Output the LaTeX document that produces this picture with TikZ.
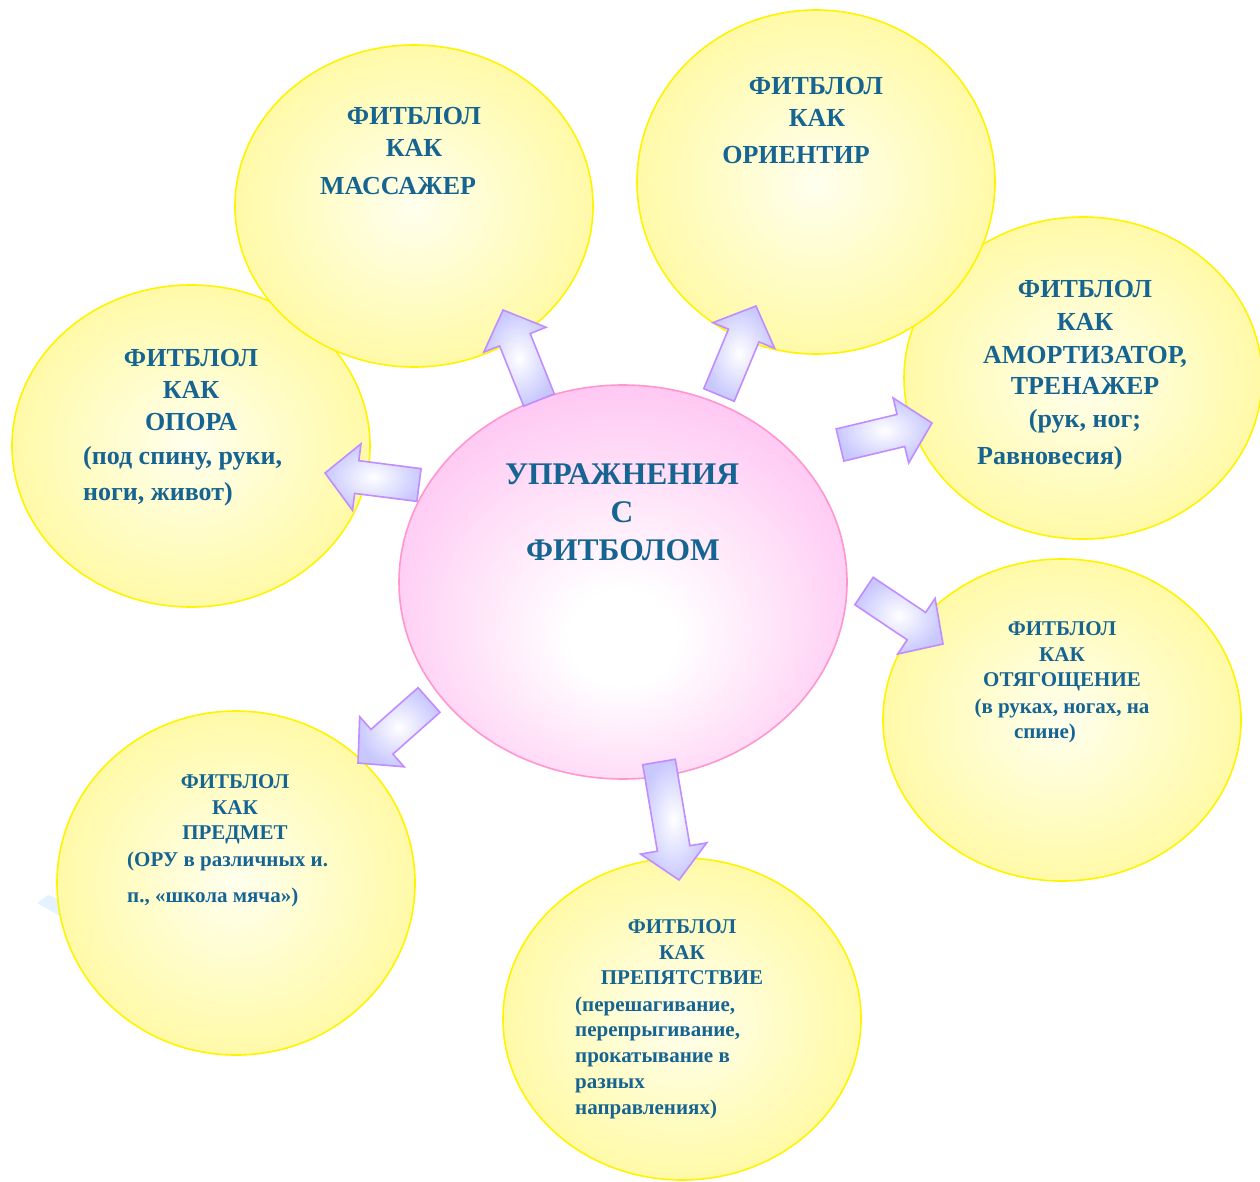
\documentclass[tikz,border=0pt]{standalone}
\usepackage{fontspec}
\setmainfont{Liberation Serif}
\usetikzlibrary{shapes.geometric,calc}
\definecolor{tcol}{RGB}{22,100,145}
\definecolor{yelIn}{RGB}{255,255,238}
\definecolor{yelOut}{RGB}{255,250,168}
\definecolor{yelLine}{RGB}{255,243,0}
\definecolor{pinkOut}{RGB}{255,196,242}
\definecolor{pinkLine}{RGB}{255,150,205}
\definecolor{arrFill}{RGB}{200,200,255}
\definecolor{arrLine}{RGB}{192,140,255}
\definecolor{ltblue}{RGB}{228,243,255}
\pgfdeclareradialshading{pinkrad}{\pgfpoint{0bp}{-8bp}}{color(0bp)=(white); color(6bp)=(white); color(30bp)=(pinkOut); color(50bp)=(pinkOut)}
\tikzset{
  ball/.style={ellipse, draw=yelLine, line width=1.6pt, inner color=yelIn, outer color=yelOut, minimum width=358pt, minimum height=322pt, inner sep=0pt},
  arr/.style={draw=arrLine, line width=1.6pt, inner color=white, outer color=arrFill, line join=miter},
  big/.style={text=tcol, font=\bfseries\fontsize{26}{30}\selectfont, inner sep=0pt, anchor=base},
  small/.style={text=tcol, font=\bfseries\fontsize{21}{25}\selectfont, inner sep=0pt, anchor=base},
  ttl/.style={text=tcol, font=\bfseries\fontsize{31.5}{36}\selectfont, inner sep=0pt, anchor=base},
}
\newcommand\blockarr[2]{%
  \coordinate (#1-n) at ($(#2)!32pt!(#1)$);
  \shadedraw[arr] ($(#1)!16.5pt!90:(#2)$) -- ($(#1-n)!16.5pt!90:(#2)$) -- ($(#1-n)!33.5pt!90:(#2)$) -- (#2) -- ($(#1-n)!33.5pt!-90:(#2)$) -- ($(#1-n)!16.5pt!-90:(#2)$) -- ($(#1)!16.5pt!-90:(#2)$) -- cycle;}
\begin{document}
\begin{tikzpicture}[x=1pt,y=-1pt]
\useasboundingbox (0,0) rectangle (1260,1182);
% balls
\fill[ltblue] (37,903) -- (48,895) -- (66,902) -- (60,916) -- cycle;
\node[ball] (amort) at (1083,378) {};
\node[ball, minimum height=344pt] (orient) at (816,182) {};
\node[ball] (opora) at (191,446) {};
\node[ball] (mass) at (414,206) {};
\node[ball] (otyag) at (1062,720) {};
\node[ball, minimum height=344pt] (predm) at (236,883) {};
\node[ball] (prep) at (682,1019) {};
\node[ellipse, draw=pinkLine, line width=1.6pt, shading=pinkrad, minimum width=448pt, minimum height=394pt, inner sep=0pt] (ctr) at (623,582) {};
% arrows
\coordinate (a1b) at (539,400); \coordinate (a1t) at (503,310);
\coordinate (a2b) at (719,395); \coordinate (a2t) at (756,306);
\coordinate (a3b) at (840,445); \coordinate (a3t) at (932,423);
\coordinate (a4b) at (419,485); \coordinate (a4t) at (325,473);
\coordinate (a5b) at (864,591); \coordinate (a5t) at (943,644);
\coordinate (a6b) at (429,700); \coordinate (a6t) at (358,763);
\coordinate (a7b) at (659,762); \coordinate (a7t) at (679,880);
\blockarr{a1b}{a1t}
\blockarr{a2b}{a2t}
\blockarr{a3b}{a3t}
\blockarr{a4b}{a4t}
\blockarr{a5b}{a5t}
\blockarr{a6b}{a6t}
\blockarr{a7b}{a7t}
% title
\node[ttl] (t1) at (622,484) {УПРАЖНЕНИЯ};
\node[ttl] (t2) at (622,522) {С};
\node[ttl] (t3) at (623,560) {ФИТБОЛОМ};
% massager
\node[big] (m1) at (414,125) {ФИТБЛОЛ};
\node[big] (m2) at (414,157) {КАК};
\node[big] (m3) at (398,195) {МАССАЖЕР};
% orientir
\node[big] (o1) at (816,95) {ФИТБЛОЛ};
\node[big] (o2) at (817,127) {КАК};
\node[big] (o3) at (796,164) {ОРИЕНТИР};
% amortizator
\node[big] (r1) at (1085,298) {ФИТБЛОЛ};
\node[big] (r2) at (1085,330) {КАК};
\node[big] (r3) at (1085,363) {АМОРТИЗАТОР,};
\node[big] (r4) at (1085,394) {ТРЕНАЖЕР};
\node[big] (r5) at (1085,427) {(рук, ног;};
\node[big, anchor=base west] (r6) at (977,464) {Равновесия)};
% opora
\node[big] (p1) at (191,366) {ФИТБЛОЛ};
\node[big] (p2) at (191,398) {КАК};
\node[big] (p3) at (191,430) {ОПОРА};
\node[big, anchor=base west] (p4) at (83,464) {(под спину, руки,};
\node[big, anchor=base west] (p5) at (83,500) {ноги, живот)};
% otyagoshenie
\node[small] (g1) at (1062,635) {ФИТБЛОЛ};
\node[small] (g2) at (1062,661) {КАК};
\node[small] (g3) at (1062,686) {ОТЯГОЩЕНИЕ};
\node[small] (g4) at (1062,713) {(в руках, ногах, на};
\node[small] (g5) at (1045,738) {спине)};
% predmet
\node[small] (d1) at (235,788) {ФИТБЛОЛ};
\node[small] (d2) at (235,814) {КАК};
\node[small] (d3) at (235,839) {ПРЕДМЕТ};
\node[small, anchor=base west] (d4) at (127,866) {(ОРУ в различных и.};
\node[small, anchor=base west] (d5) at (127,902) {п., «школа мяча»)};
% prepyatstvie
\node[small] (s1) at (682,933) {ФИТБЛОЛ};
\node[small] (s2) at (682,959) {КАК};
\node[small] (s3) at (682,984) {ПРЕПЯТСТВИЕ};
\node[small, anchor=base west] (s4) at (575,1011) {(перешагивание,};
\node[small, anchor=base west] (s5) at (575,1036) {перепрыгивание,};
\node[small, anchor=base west] (s6) at (575,1062) {прокатывание в};
\node[small, anchor=base west] (s7) at (575,1088) {разных};
\node[small, anchor=base west] (s8) at (575,1114) {направлениях)};
\end{tikzpicture}
\end{document}
